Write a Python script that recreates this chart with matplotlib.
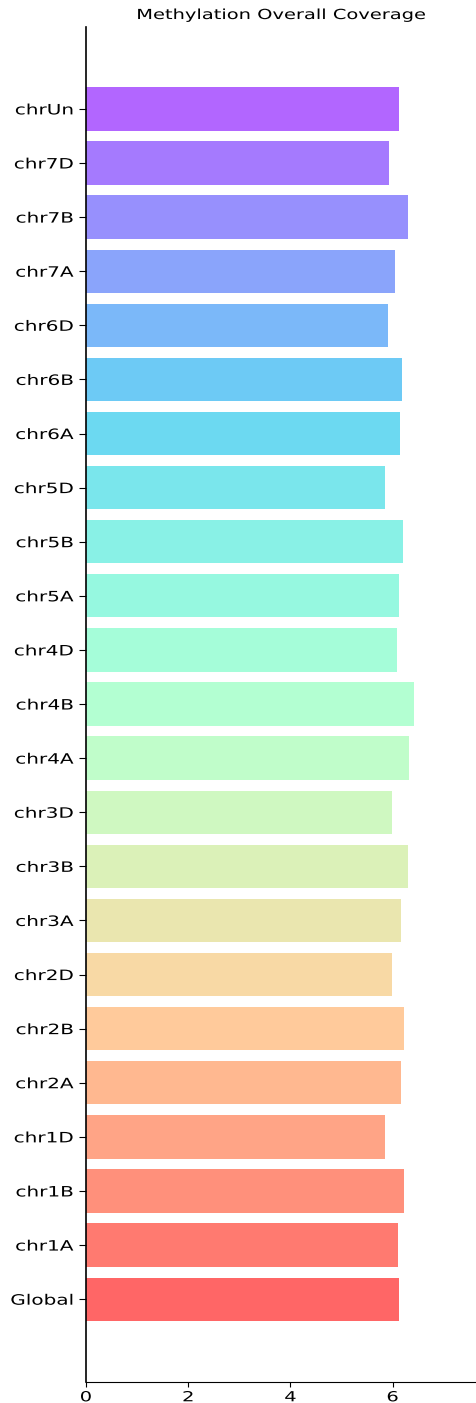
import matplotlib
matplotlib.use("Agg")
import matplotlib.pyplot as plt
import numpy as np
from matplotlib.patheffects import AbstractPathEffect
from matplotlib.transforms import Affine2D

# Mean methylation coverage per chromosome (bottom to top)
labels = ["Global", "chr1A", "chr1B", "chr1D", "chr2A", "chr2B", "chr2D",
          "chr3A", "chr3B", "chr3D", "chr4A", "chr4B", "chr4D",
          "chr5A", "chr5B", "chr5D", "chr6A", "chr6B", "chr6D",
          "chr7A", "chr7B", "chr7D", "chrUn"]
coverage = [6.13, 6.10, 6.23, 5.85, 6.16, 6.23, 5.99,
            6.16, 6.30, 5.99, 6.32, 6.41, 6.08,
            6.12, 6.21, 5.85, 6.14, 6.19, 5.91,
            6.05, 6.30, 5.92, 6.12]
xticks = [0, 2, 4, 6]


class WideText(AbstractPathEffect):
    """Draw glyphs widened horizontally around a chosen anchor."""

    def __init__(self, sx, anchor="center"):
        super().__init__()
        self.sx = sx
        self.anchor = anchor

    def draw_path(self, renderer, gc, tpath, affine, rgbFace=None):
        ext = tpath.get_extents()
        if self.anchor == "right":
            x0 = ext.x1
        elif self.anchor == "left":
            x0 = ext.x0
        else:
            x0 = 0.5 * (ext.x0 + ext.x1)
        pre = Affine2D().translate(-x0, 0).scale(self.sx, 1).translate(x0, 0)
        renderer.draw_path(gc, tpath, pre + affine, rgbFace)


SX = 1.4

fig = plt.figure(figsize=(4.77, 14.03), dpi=100)
ax = fig.add_axes([0.18, 0.015, 0.82, 0.966])

n = len(labels)
pos = np.arange(n)
colors = plt.cm.rainbow(np.linspace(1, 0, n))
ax.barh(pos, coverage, height=0.8, color=colors, alpha=0.6)

ax.set_yticks(pos)
ax.set_yticklabels(labels, fontsize=10.3)
ax.set_xticks(xticks)
ax.tick_params(axis="x", labelsize=10, pad=2.5)
ax.tick_params(axis="y", length=5, pad=4)
ax.set_xlim(0, 7.65)
ax.set_ylim(-1.53, n - 1 + 1.52)
ax.spines["top"].set_visible(False)
ax.spines["right"].set_visible(False)
ax.spines["left"].set_linewidth(1.2)

for t in ax.get_yticklabels():
    t.set_path_effects([WideText(SX, "right")])
for t in ax.get_xticklabels():
    t.set_path_effects([WideText(SX, "center")])

title = ax.set_title("Methylation Overall Coverage", fontsize=10, pad=5.5)
title.set_path_effects([WideText(SX, "center")])

fig.savefig("out.png", dpi=100)
